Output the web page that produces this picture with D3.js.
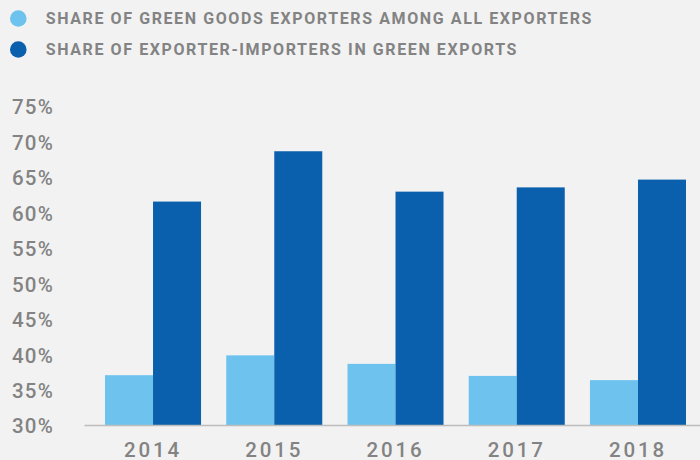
<!DOCTYPE html>
<html>
<head>
<meta charset="utf-8">
<script src="https://cdn.jsdelivr.net/npm/d3@7"></script>
<style>
  html, body { margin: 0; padding: 0; background: #f2f2f2; }
  svg { display: block; }
</style>
</head>
<body>
<svg id="chart" width="700" height="460"></svg>
<script>
// Years on the x axis
const years = ["2014", "2015", "2016", "2017", "2018"];
// Share of green goods exporters among all exporters (%)
const greenExporters = [37.1, 39.9, 38.7, 37.0, 36.4];
// Share of exporter-importers in green exports (%)
const exporterImporters = [61.6, 68.7, 63.0, 63.6, 64.7];
// Y axis ticks (%)
const yTicks = [30, 35, 40, 45, 50, 55, 60, 65, 70, 75];
// Legend entries
const seriesNames = [
  "SHARE OF GREEN GOODS EXPORTERS AMONG ALL EXPORTERS",
  "SHARE OF EXPORTER-IMPORTERS IN GREEN EXPORTS"
];
const seriesColors = ["#6ec3ee", "#0b60ad"];

const svg = d3.select("#chart");
const W = 700, H = 460;
svg.append("rect").attr("width", W).attr("height", H).attr("fill", "#f2f2f2");

const textColor = "#838383";
const font = "Roboto, 'Liberation Sans', Arial, sans-serif";

const y = d3.scaleLinear().domain([30, 75]).range([425.5, 106.6]);
const x0 = d3.scaleBand().domain(years).range([92.4, 698.6])
  .paddingInner(0.208).paddingOuter(0.104);
const series = [greenExporters, exporterImporters];
const x1 = d3.scaleBand().domain([0, 1]).range([0, x0.bandwidth()]).padding(0);

// Bars
const groups = svg.append("g").selectAll("g")
  .data(years)
  .join("g")
  .attr("transform", d => `translate(${x0(d)},0)`);

groups.selectAll("rect")
  .data((d, i) => series.map((s, k) => ({ k, v: s[i] })))
  .join("rect")
  .attr("x", d => x1(d.k))
  .attr("width", x1.bandwidth())
  .attr("y", d => y(d.v))
  .attr("height", d => y(30) - y(d.v))
  .attr("fill", d => seriesColors[d.k]);

// Baseline
svg.append("line")
  .attr("x1", 84.5).attr("x2", W)
  .attr("y1", y(30)).attr("y2", y(30))
  .attr("stroke", "#bdbdbd").attr("stroke-width", 1.5);

// Y axis labels
const yAxis = d3.axisLeft(y).tickValues(yTicks).tickFormat(d => d + "%").tickSize(0).tickPadding(0);
const gy = svg.append("g").attr("transform", "translate(54,0)").call(yAxis);
gy.select(".domain").remove();
gy.selectAll("text")
  .attr("fill", textColor)
  .attr("font-family", font)
  .attr("font-weight", 500)
  .attr("font-size", 20.5)
  .attr("letter-spacing", "1.2px")
  .attr("dy", "0.36em");

// X axis labels
const xAxis = d3.axisBottom(x0).tickSize(0).tickPadding(0);
const gx = svg.append("g").attr("transform", "translate(0,442)").call(xAxis);
gx.select(".domain").remove();
gx.selectAll("text")
  .attr("fill", textColor)
  .attr("font-family", font)
  .attr("font-weight", 500)
  .attr("font-size", 20.5)
  .attr("letter-spacing", "2.8px")
  .attr("dy", "0.72em");

// Legend
const legend = svg.append("g").selectAll("g")
  .data(seriesNames)
  .join("g")
  .attr("transform", (d, i) => `translate(0,${18.5 + i * 31})`);
legend.append("circle")
  .attr("cx", 18.3).attr("cy", 0).attr("r", 8.3)
  .attr("fill", (d, i) => seriesColors[i]);
legend.append("text")
  .attr("x", 45.7).attr("y", 0).attr("dy", "0.36em")
  .attr("fill", textColor)
  .attr("font-family", font)
  .attr("font-weight", 700)
  .attr("font-size", 16)
  .attr("letter-spacing", "1.6px")
  .text(d => d);
</script>
</body>
</html>
